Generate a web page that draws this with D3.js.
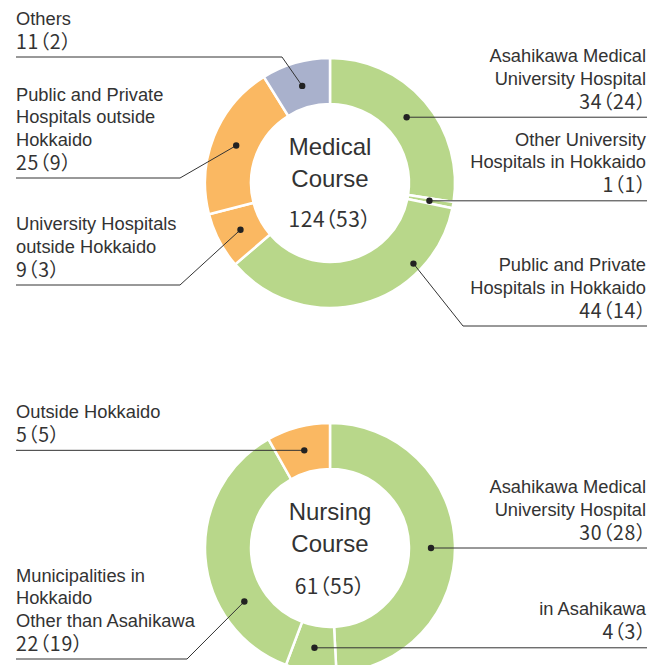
<!DOCTYPE html>
<html>
<head>
<meta charset="utf-8">
<script src="https://cdn.jsdelivr.net/npm/d3@7"></script>
<style>
  html, body { margin: 0; padding: 0; background: #fff; }
  svg { display: block; }
  .lbl { font-family: "Liberation Sans", Arial, sans-serif; font-size: 18.3px; fill: #333; }
  .num { font-family: "Noto Sans CJK JP", sans-serif; font-size: 19.5px; fill: #333; font-feature-settings: "palt"; letter-spacing: 0.8px; }
  .ctitle { font-family: "Liberation Sans", Arial, sans-serif; font-size: 24px; fill: #333; }
  .cnum { font-family: "Noto Sans CJK JP", sans-serif; font-size: 21px; fill: #333; font-feature-settings: "palt"; letter-spacing: 0.5px; }
</style>
</head>
<body>
<svg id="chart" width="648" height="665"></svg>
<script>
// ---------- DATA ----------
const medicalCategories = [
  ["Asahikawa Medical", "University Hospital"],
  ["Other University", "Hospitals in Hokkaido"],
  ["Public and Private", "Hospitals in Hokkaido"],
  ["University Hospitals", "outside Hokkaido"],
  ["Public and Private", "Hospitals outside", "Hokkaido"],
  ["Others"]
];
const medicalValues = [34, 1, 44, 9, 25, 11];
const medicalSubValues = [24, 1, 14, 3, 9, 2];
const medicalGroups = ["in", "in", "in", "out", "out", "other"];
const medicalTitle = ["Medical", "Course"];

const nursingCategories = [
  ["Asahikawa Medical", "University Hospital"],
  ["in Asahikawa"],
  ["Municipalities in", "Hokkaido", "Other than Asahikawa"],
  ["Outside Hokkaido"]
];
const nursingValues = [30, 4, 22, 5];
const nursingSubValues = [28, 3, 19, 5];
const nursingGroups = ["in", "in", "in", "out"];
const nursingTitle = ["Nursing", "Course"];

// ---------- STYLE / LAYOUT ----------
const groupColors = { in: "#b8d78a", out: "#fab862", other: "#a9b1cc" };
const W = 648, H = 665;
const outerR = 125, innerR = 79, dotR = 101;
const leftX = 16, rightX = 647, rightTextX = 646;

const medicalLayout = [
  { side: "R" },
  { side: "R" },
  { side: "R", angle: 134, r: 116, elbowX: 463, lineY: 326 },
  { side: "L", elbowX: 180, lineY: 285 },
  { side: "L", elbowX: 180, lineY: 178 },
  { side: "L", elbowX: 282, lineY: 57 }
];
const nursingLayout = [
  { side: "R", angle: 90 },
  { side: "R" },
  { side: "L", angle: 238, r: 101, elbowX: 187, lineY: 659 },
  { side: "L" }
];

const svg = d3.select("#chart");

function drawDonut(cx, cy, cats, vals, subs, groups, title, layout, numOffset) {
  const g = svg.append("g");
  const pie = d3.pie().sort(null).value(d => d)(vals);
  const arc = d3.arc().innerRadius(innerR).outerRadius(outerR);
  const ring = g.append("g").attr("transform", `translate(${cx},${cy})`);
  ring.selectAll("path").data(pie).join("path")
    .attr("d", arc)
    .attr("fill", (d, i) => groupColors[groups[i]])
    .attr("stroke", "#fff")
    .attr("stroke-width", 2.5);

  // center texts
  const total = d3.sum(vals), subTotal = d3.sum(subs);
  g.append("text").attr("class", "ctitle").attr("x", cx).attr("y", cy - 28)
    .attr("text-anchor", "middle").text(title[0]);
  g.append("text").attr("class", "ctitle").attr("x", cx).attr("y", cy + 4)
    .attr("text-anchor", "middle").text(title[1]);
  g.append("text").attr("class", "cnum").attr("x", cx).attr("y", cy + numOffset)
    .attr("text-anchor", "middle").text(`${total}（${subTotal}）`);

  // labels & leaders
  pie.forEach((p, i) => {
    const L = layout[i];
    const ang = L.angle !== undefined ? L.angle * Math.PI / 180 : (p.startAngle + p.endAngle) / 2;
    const r = L.r || dotR;
    const dx = cx + r * Math.sin(ang), dy = cy - r * Math.cos(ang);
    const lineY = L.lineY !== undefined ? L.lineY : dy;
    const pts = [[dx, dy]];
    if (L.elbowX !== undefined) pts.push([L.elbowX, lineY]);
    pts.push([L.side === "L" ? leftX : rightX, lineY]);
    g.append("path")
      .attr("d", d3.line()(pts))
      .attr("fill", "none").attr("stroke", "#333").attr("stroke-width", 1);
    g.append("circle").attr("cx", dx).attr("cy", dy).attr("r", 3.2).attr("fill", "#222");

    const tx = L.side === "L" ? leftX : rightTextX;
    const anchor = L.side === "L" ? "start" : "end";
    const numY = lineY - 8.5;
    g.append("text").attr("class", "num")
      .attr("x", L.side === "L" ? tx : tx + 0.8).attr("y", numY)
      .attr("text-anchor", anchor).text(`${vals[i]}（${subs[i]}）`);
    const lines = cats[i];
    lines.forEach((t, k) => {
      const y = numY - 24 - (lines.length - 1 - k) * 22.3;
      g.append("text").attr("class", "lbl").attr("x", tx).attr("y", y)
        .attr("text-anchor", anchor).text(t);
    });
  });
}

drawDonut(330, 183, medicalCategories, medicalValues, medicalSubValues, medicalGroups, medicalTitle, medicalLayout, 44);
drawDonut(330, 548, nursingCategories, nursingValues, nursingSubValues, nursingGroups, nursingTitle, nursingLayout, 46);
</script>
</body>
</html>
